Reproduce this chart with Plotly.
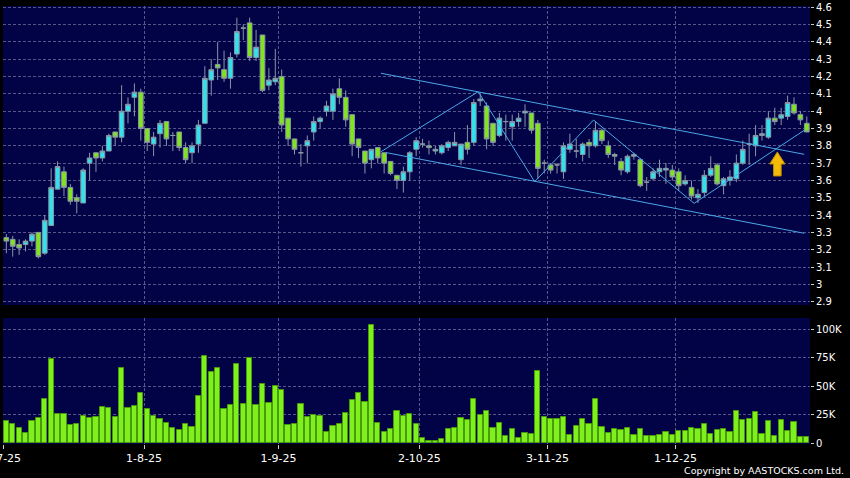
import pandas as pd
import plotly.graph_objects as go

# ---------------- data ----------------
holidays = ["2025-10-01", "2025-10-07", "2025-10-29", "2025-12-25", "2025-12-26"]
dates = [d for d in pd.bdate_range("2025-07-02", "2025-12-31") if d.strftime("%Y-%m-%d") not in holidays]

opens = [3.27,3.26,3.23,3.23,3.25,3.30,3.18,3.34,3.55,3.65,3.56,3.50,3.47,3.70,3.76,3.73,3.77,3.88,3.85,4.00,
         4.08,4.11,3.90,3.81,3.87,3.94,3.86,3.88,3.79,3.76,3.81,3.93,4.18,4.27,4.24,4.19,4.33,4.48,4.51,4.31,
         4.44,4.15,4.17,4.20,3.96,3.84,3.76,3.80,3.88,3.94,4.00,4.00,4.13,4.08,3.98,3.84,3.77,3.72,3.79,3.76,
         3.71,3.63,3.60,3.65,3.78,3.81,3.80,3.77,3.76,3.79,3.80,3.72,3.82,3.82,4.06,4.03,3.93,3.86,3.94,3.91,
         3.94,3.99,3.99,3.93,3.70,3.69,3.69,3.65,3.78,3.77,3.75,3.82,3.80,3.89,3.80,3.75,3.71,3.65,3.75,3.72,
         3.59,3.61,3.65,3.66,3.66,3.65,3.58,3.56,3.50,3.53,3.63,3.69,3.57,3.60,3.61,3.70,3.81,3.80,3.86,3.85,
         3.96,3.96,3.97,4.04,3.98,3.93]
highs = [3.29,3.28,3.26,3.26,3.30,3.30,3.40,3.67,3.71,3.68,3.58,3.52,3.67,3.76,3.76,3.80,3.87,3.88,4.15,4.08,
         4.16,4.13,3.90,3.88,3.95,3.94,3.88,3.88,3.82,3.82,3.95,4.26,4.30,4.40,4.35,4.34,4.54,4.50,4.54,4.47,
         4.44,4.25,4.36,4.24,3.96,3.84,3.81,3.86,3.97,3.97,4.06,4.13,4.19,4.12,3.98,3.84,3.77,3.78,3.79,3.76,
         3.71,3.63,3.68,3.77,3.85,3.84,3.83,3.80,3.81,3.83,3.88,3.81,3.92,4.07,4.10,4.05,3.93,3.99,3.98,3.98,
         3.99,4.04,3.99,3.95,3.72,3.70,3.70,3.82,3.87,3.84,3.82,3.84,3.94,3.90,3.83,3.76,3.73,3.75,3.76,3.73,
         3.62,3.67,3.72,3.70,3.69,3.67,3.63,3.60,3.55,3.66,3.74,3.70,3.62,3.66,3.75,3.83,3.87,3.92,3.92,4.00,
         4.02,4.02,4.09,4.08,4.00,3.97]
lows = [3.18,3.16,3.17,3.19,3.22,3.15,3.17,3.34,3.55,3.51,3.46,3.41,3.47,3.60,3.65,3.71,3.77,3.80,3.82,3.93,
        3.97,3.83,3.77,3.74,3.79,3.80,3.77,3.77,3.70,3.70,3.76,3.93,4.09,4.18,4.17,4.13,4.31,4.41,4.29,4.29,
        4.11,4.12,4.15,3.88,3.80,3.75,3.68,3.70,3.83,3.90,3.97,3.95,4.04,3.91,3.74,3.73,3.64,3.67,3.70,3.64,
        3.63,3.55,3.53,3.60,3.74,3.79,3.75,3.75,3.75,3.77,3.80,3.69,3.75,3.80,4.03,3.78,3.80,3.85,3.83,3.83,
        3.91,3.91,3.87,3.61,3.64,3.64,3.64,3.61,3.76,3.73,3.71,3.73,3.79,3.81,3.73,3.69,3.63,3.64,3.72,3.56,
        3.54,3.60,3.62,3.58,3.60,3.54,3.57,3.49,3.47,3.51,3.62,3.57,3.52,3.57,3.59,3.69,3.69,3.74,3.83,3.84,
        3.92,3.92,3.95,3.98,3.92,3.88]
closes = [3.25,3.22,3.21,3.25,3.29,3.16,3.37,3.56,3.68,3.56,3.48,3.48,3.66,3.73,3.73,3.77,3.86,3.85,4.00,4.04,
          4.11,3.90,3.82,3.85,3.93,3.84,3.86,3.79,3.72,3.80,3.92,4.19,4.24,4.25,4.19,4.31,4.46,4.48,4.31,4.37,
          4.12,4.18,4.19,3.92,3.84,3.78,3.76,3.83,3.94,3.96,4.03,4.10,4.08,3.95,3.81,3.79,3.70,3.78,3.73,3.70,
          3.64,3.60,3.65,3.76,3.83,3.81,3.79,3.78,3.80,3.82,3.82,3.81,3.78,4.05,4.07,3.84,3.82,3.96,3.94,3.94,
          3.96,4.00,3.89,3.67,3.70,3.66,3.69,3.80,3.81,3.77,3.81,3.80,3.89,3.83,3.75,3.74,3.66,3.74,3.74,3.57,
          3.59,3.65,3.67,3.67,3.62,3.57,3.60,3.51,3.52,3.63,3.67,3.58,3.61,3.62,3.70,3.78,3.81,3.86,3.87,3.96,
          3.94,3.98,4.05,3.99,3.95,3.88]
volume_k = [19.6,16.7,13.2,9.4,19.6,22.5,38.9,74.3,26,26,15.8,17,24,22.2,23.1,31.6,31,22.8,65.8,30.7,
            33,43.9,30.1,24,21.3,17.8,13.2,11.4,17,14.6,41.2,76.9,62.9,66.4,30.4,33.9,69.3,34.5,75.1,33.3,
            52.3,35.1,50,46.8,16.4,17,34.8,23.4,24.9,23.7,9.9,15.2,17,26.3,38.3,44.2,36.3,103.5,17.5,9.6,
            12.3,28.1,24,25.7,17,4.4,2.0,2.0,3.5,12.6,13.2,21.9,20.5,38.6,24.6,28.4,13.2,17.5,6.4,12.3,
            4.7,8.8,8.5,63.5,22.8,21.3,21.1,23.1,7.0,14.9,21.3,17.3,39.2,14.0,8.8,12.3,11.7,13.2,7.0,12.3,
            6.4,6.4,7.3,9.9,7.0,11.1,10.8,13.2,12.6,17.3,7.9,11.7,12.6,9.6,28.4,20.5,21.1,27.2,8.2,19.6,
            6.4,20.5,10.5,18.4,5.3,5.8]

price_ticks = [2.9, 3.0, 3.1, 3.2, 3.3, 3.4, 3.5, 3.6, 3.7, 3.8, 3.9, 4.0, 4.1, 4.2, 4.3, 4.4, 4.5, 4.6]
price_tick_text = ["2.9", "3", "3.1", "3.2", "3.3", "3.4", "3.5", "3.6", "3.7", "3.8", "3.9", "4",
                   "4.1", "4.2", "4.3", "4.4", "4.5", "4.6"]
vol_ticks = [0, 25000, 50000, 75000, 100000]
vol_tick_text = ["0", "25K", "50K", "75K", "100K"]

# trend lines drawn on the chart (candle index, price)
zigzag_idx = [58.5, 73.7, 82.5, 91.7, 107.4, 124.6]
zigzag_px = [3.766, 4.113, 3.593, 3.949, 3.468, 3.89]
upper_idx = [58.5, 124.6]
upper_px = [4.219, 3.751]
lower_idx = [59.3, 124.6]
lower_px = [3.761, 3.295]
arrow_idx = [120.4, 121.6, 121.0, 121.0, 119.8, 119.8, 119.2, 120.4]
arrow_px = [3.765, 3.695, 3.695, 3.626, 3.626, 3.695, 3.695, 3.765]

# ---------------- figure ----------------
x = list(range(len(dates)))
volume = [v * 1000 for v in volume_k]

month_first = []
seen = set()
for i, d in enumerate(dates):
    if (d.year, d.month) not in seen:
        seen.add((d.year, d.month))
        month_first.append(i)
month_pos = [i - 0.5 for i in month_first]
month_text = [f"{dates[i].day}-{dates[i].month}-{dates[i].strftime('%y')}" for i in month_first]

UP = "#2fe2ee"
DOWN = "#80e41e"
EDGE = "#8a96a4"
TREND = "#4aa8e6"
NAVY = "#020246"
GRID = "#56568a"
FONT = dict(family="DejaVu Sans", size=10, color="#ffffff")
XFONT = dict(family="DejaVu Sans", size=11, color="#ffffff")

fig = go.Figure()
fig.add_trace(go.Candlestick(
    x=x, open=opens, high=highs, low=lows, close=closes,
    increasing=dict(fillcolor=UP, line=dict(color=EDGE, width=1)),
    decreasing=dict(fillcolor=DOWN, line=dict(color=EDGE, width=1)),
    whiskerwidth=0, xaxis="x", yaxis="y", showlegend=False, hoverinfo="skip"))

for xi, yi in [(upper_idx, upper_px), (lower_idx, lower_px), (zigzag_idx, zigzag_px)]:
    fig.add_trace(go.Scatter(x=xi, y=yi, mode="lines", line=dict(color=TREND, width=1),
                             xaxis="x", yaxis="y", showlegend=False, hoverinfo="skip"))

fig.add_trace(go.Scatter(x=arrow_idx, y=arrow_px, mode="lines", fill="toself",
                         fillcolor="#f4bb08", line=dict(color="#b8860b", width=1),
                         xaxis="x", yaxis="y", showlegend=False, hoverinfo="skip"))

fig.add_trace(go.Bar(x=x, y=volume, marker=dict(color="#7ef01c", line=dict(color="#4a9a0c", width=1)),
                     width=0.82, xaxis="x2", yaxis="y2", showlegend=False, hoverinfo="skip"))

xrange = [-0.52, len(dates) - 0.5]
common_x = dict(range=xrange, showgrid=True, gridcolor=GRID, griddash="3px,2px", gridwidth=1,
                zeroline=False, showline=False, tickmode="array", tickvals=month_pos,
                fixedrange=True, automargin=False)

fig.update_layout(
    template="none",
    width=850, height=478,
    margin=dict(l=3, r=40, t=6, b=34, autoexpand=False),
    paper_bgcolor="#000000", plot_bgcolor=NAVY,
    font=FONT,
    bargap=0, boxgap=0.27, boxgroupgap=0,
    xaxis=dict(**common_x, domain=[0, 1], anchor="y", showticklabels=False, ticks="",
               rangeslider=dict(visible=False)),
    yaxis=dict(domain=[0.3174, 1.0], range=[2.881, 4.6075], side="right", anchor="x",
               tickmode="array", tickvals=price_ticks, ticktext=price_tick_text, automargin=False,
               ticks="outside", ticklen=3, tickcolor="#cccccc", showgrid=True, gridcolor=GRID,
               griddash="3px,2px", zeroline=False, showline=False, tickfont=FONT,
               ticklabeloverflow="allow"),
    xaxis2=dict(**common_x, domain=[0, 1], anchor="y2", ticktext=month_text, showticklabels=True,
                ticks="outside", ticklen=4, tickcolor="#cccccc", tickfont=XFONT,
                ticklabeloverflow="allow"),
    yaxis2=dict(domain=[0, 0.2877], range=[-500, 110000], side="right", anchor="x2",
                tickmode="array", tickvals=vol_ticks, ticktext=vol_tick_text, automargin=False,
                ticks="outside", ticklen=3, tickcolor="#cccccc", showgrid=True, gridcolor=GRID,
                griddash="3px,2px", zeroline=False, showline=False, tickfont=FONT,
                ticklabeloverflow="allow"),
    annotations=[dict(text="Copyright by AASTOCKS.com Ltd.", xref="paper", yref="paper",
                      x=1.0447, y=-0.0616, xanchor="right", yanchor="middle", showarrow=False,
                      font=dict(family="DejaVu Sans", size=9.5, color="#ffffff"))],
)

fig.write_html("out.html", config={"displayModeBar": False},
               post_script="document.body.style.margin='0';")
